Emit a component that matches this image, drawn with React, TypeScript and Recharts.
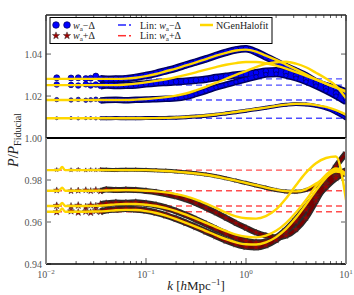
import React from 'react'
import { ComposedChart, Line, XAxis, YAxis, ReferenceLine } from 'recharts'

// simulation k bins (h/Mpc)
const K_SIM = [0.0128, 0.0178, 0.021, 0.025, 0.028, 0.0315, 0.035, 0.04, 0.05, 0.063, 0.079, 0.1, 0.126, 0.158, 0.2, 0.251, 0.316, 0.398, 0.501, 0.631, 0.794, 1.0, 1.26, 1.58, 2.0, 2.51, 3.16, 3.98, 5.01, 6.31, 7.94, 10]

// w_a - Delta, four redshifts (top to bottom)
const SIM_MINUS_A = [1.0287, 1.0286, 1.0287, 1.0283, 1.0285, 1.0295, 1.0282, 1.028, 1.0281, 1.0283, 1.0289, 1.0298, 1.0308, 1.032, 1.0333, 1.0348, 1.0362, 1.0377, 1.0393, 1.0408, 1.042, 1.0425, 1.041, 1.0387, 1.0363, 1.034, 1.0318, 1.0296, 1.0268, 1.0249, 1.0237, 1.0219]
const SIM_MINUS_B = [1.0255, 1.0253, 1.025, 1.0256, 1.025, 1.0255, 1.0249, 1.0252, 1.025, 1.0251, 1.0253, 1.0258, 1.0262, 1.0265, 1.0268, 1.0271, 1.0275, 1.028, 1.0288, 1.0294, 1.03, 1.0305, 1.0311, 1.0318, 1.032, 1.0313, 1.0297, 1.028, 1.026, 1.0237, 1.0213, 1.0189]
const SIM_MINUS_C = [1.0183, 1.0181, 1.0184, 1.018, 1.0182, 1.0185, 1.0179, 1.0181, 1.0182, 1.018, 1.0182, 1.0183, 1.0185, 1.0187, 1.0189, 1.0196, 1.021, 1.0225, 1.0241, 1.0254, 1.0267, 1.028, 1.0292, 1.0303, 1.0305, 1.0298, 1.0285, 1.0268, 1.0248, 1.0225, 1.02, 1.0172]
const SIM_MINUS_D = [1.0094, 1.0095, 1.0093, 1.0094, 1.0095, 1.0093, 1.0094, 1.0094, 1.0095, 1.0094, 1.0094, 1.0095, 1.0095, 1.0096, 1.0097, 1.0099, 1.0102, 1.0106, 1.0111, 1.0117, 1.0123, 1.013, 1.0137, 1.0144, 1.0152, 1.0158, 1.0162, 1.016, 1.0153, 1.0141, 1.0121, 1.0093]

// w_a + Delta
const SIM_PLUS_E = [0.9849, 0.9848, 0.985, 0.9847, 0.9849, 0.9848, 0.985, 0.9849, 0.9848, 0.9849, 0.9849, 0.9848, 0.9846, 0.9844, 0.9841, 0.9837, 0.9832, 0.9826, 0.9818, 0.9808, 0.9797, 0.9786, 0.9774, 0.9763, 0.9752, 0.9745, 0.9744, 0.9752, 0.9772, 0.98, 0.9825, 0.984]
const SIM_PLUS_F = [0.9751, 0.9748, 0.975, 0.9752, 0.9748, 0.9753, 0.9747, 0.9755, 0.9752, 0.9754, 0.9752, 0.9748, 0.9742, 0.9733, 0.9722, 0.9708, 0.969, 0.9668, 0.9645, 0.962, 0.9595, 0.9572, 0.955, 0.9535, 0.9527, 0.9535, 0.9565, 0.962, 0.97, 0.9785, 0.9865, 0.9928]
const SIM_PLUS_G = [0.9678, 0.9675, 0.9679, 0.9672, 0.968, 0.9676, 0.9684, 0.9688, 0.9692, 0.969, 0.9693, 0.9688, 0.968, 0.9668, 0.9652, 0.9633, 0.9612, 0.959, 0.9567, 0.9545, 0.9525, 0.951, 0.9502, 0.9505, 0.9525, 0.9562, 0.9612, 0.967, 0.9728, 0.978, 0.982, 0.9845]
const SIM_PLUS_H = [0.9648, 0.9652, 0.9646, 0.965, 0.9645, 0.9653, 0.9649, 0.9656, 0.966, 0.9663, 0.966, 0.9655, 0.9645, 0.9632, 0.9615, 0.9596, 0.9576, 0.9555, 0.9533, 0.9512, 0.9495, 0.9483, 0.948, 0.949, 0.9515, 0.9553, 0.9603, 0.966, 0.9716, 0.9768, 0.981, 0.9838]

// NGenHalofit k grid
const K_FIT = [0.01, 0.0135, 0.0145, 0.0155, 0.02, 0.03, 0.04, 0.05, 0.063, 0.079, 0.1, 0.126, 0.158, 0.2, 0.251, 0.316, 0.398, 0.501, 0.631, 0.794, 1.0, 1.26, 1.58, 2.0, 2.51, 3.16, 3.98, 5.01, 6.31, 7.94, 10]

const FIT_MINUS_A = [1.0282, 1.0282, 1.0282, 1.0282, 1.0282, 1.0282, 1.0282, 1.0282, 1.0283, 1.0287, 1.0295, 1.0305, 1.0318, 1.0331, 1.0346, 1.036, 1.0376, 1.0392, 1.0406, 1.0417, 1.0421, 1.0412, 1.0392, 1.0372, 1.035, 1.0327, 1.0303, 1.0279, 1.0259, 1.0241, 1.0222]
const FIT_MINUS_B = [1.0252, 1.0252, 1.0252, 1.0252, 1.0252, 1.0252, 1.0252, 1.0252, 1.0255, 1.0259, 1.0265, 1.0272, 1.028, 1.029, 1.0301, 1.0313, 1.0326, 1.0338, 1.0349, 1.0357, 1.0362, 1.0362, 1.0356, 1.0345, 1.0331, 1.0314, 1.0296, 1.0278, 1.0259, 1.024, 1.022]
const FIT_MINUS_C = [1.0181, 1.0181, 1.0181, 1.0181, 1.0181, 1.0181, 1.0181, 1.0181, 1.0181, 1.0183, 1.0186, 1.019, 1.0195, 1.0202, 1.0212, 1.0227, 1.0244, 1.0263, 1.0282, 1.0301, 1.0319, 1.0338, 1.0353, 1.0361, 1.0363, 1.0354, 1.0337, 1.0311, 1.0283, 1.0248, 1.0189]
const FIT_MINUS_D = [1.0094, 1.0094, 1.0094, 1.0094, 1.0094, 1.0094, 1.0094, 1.0094, 1.0094, 1.0094, 1.0094, 1.0095, 1.0096, 1.0098, 1.01, 1.0103, 1.0107, 1.0112, 1.0118, 1.0124, 1.0131, 1.0138, 1.0145, 1.0153, 1.0159, 1.0163, 1.0162, 1.0157, 1.0148, 1.0133, 1.0112]

const FIT_PLUS_E = [0.9847, 0.9847, 0.9862, 0.9847, 0.9847, 0.9847, 0.9847, 0.9847, 0.9847, 0.9847, 0.9847, 0.9845, 0.9843, 0.984, 0.9836, 0.9831, 0.9825, 0.9817, 0.9807, 0.9797, 0.9786, 0.9775, 0.9764, 0.9754, 0.9747, 0.9746, 0.9756, 0.9783, 0.9815, 0.984, 0.983]
const FIT_PLUS_F = [0.9749, 0.9749, 0.9764, 0.9749, 0.9749, 0.9749, 0.975, 0.9751, 0.9752, 0.9751, 0.9749, 0.9746, 0.9741, 0.9733, 0.9722, 0.9707, 0.9688, 0.9667, 0.9645, 0.9627, 0.9618, 0.9616, 0.9628, 0.966, 0.9712, 0.9775, 0.9835, 0.988, 0.9905, 0.9912, 0.9705]
const FIT_PLUS_G = [0.9676, 0.9676, 0.9691, 0.9676, 0.9676, 0.9677, 0.968, 0.9684, 0.9686, 0.9686, 0.9682, 0.9676, 0.9666, 0.9652, 0.9635, 0.9616, 0.9596, 0.9576, 0.9557, 0.954, 0.953, 0.9527, 0.9535, 0.9558, 0.9595, 0.9645, 0.9705, 0.977, 0.9825, 0.9855, 0.983]
const FIT_PLUS_H = [0.9649, 0.9649, 0.9664, 0.9649, 0.9649, 0.965, 0.9652, 0.9656, 0.9658, 0.9657, 0.9652, 0.9643, 0.963, 0.9614, 0.9596, 0.9577, 0.9557, 0.9537, 0.9518, 0.9503, 0.9494, 0.9493, 0.9503, 0.9528, 0.9567, 0.962, 0.9683, 0.975, 0.981, 0.9848, 0.9822]

// linear theory ratios
const LIN_MINUS = [1.0282, 1.0252, 1.0181, 1.0094]
const LIN_PLUS = [0.9847, 0.9749, 0.9676, 0.9649]

const X_DOMAIN = [0.01, 10]
const Y_DOMAIN = [0.94, 1.0586]
const Y_TICKS = [0.94, 0.96, 0.98, 1.0, 1.02, 1.04]
const X_MAJOR = [0.01, 0.1, 1, 10]
const X_EXP = ['\u22122', '\u22121', '0', '1']
const X_MINOR = [0.02, 0.03, 0.04, 0.05, 0.06, 0.07, 0.08, 0.09, 0.2, 0.3, 0.4, 0.5, 0.6, 0.7, 0.8, 0.9, 2, 3, 4, 5, 6, 7, 8, 9]

const W = 354
const H = 295
const PLOT = { left: 46, right: 346, top: 15, bottom: 264 }
const FONT = '"Liberation Serif", "DejaVu Serif", serif'
const BAND_FROM = 0.035
const YELLOW = '#ffd700'

type Pt = { k: number; v: number }
const toPts = (ks: number[], vs: number[]): Pt[] => ks.map((k, i) => ({ k, v: vs[i] }))
const flat = (v: number): Pt[] => [{ k: X_DOMAIN[0], v }, { k: X_DOMAIN[1], v }]

const MINUS = [
  { sim: SIM_MINUS_A, fit: FIT_MINUS_A, r: 3, band: 7.5 },
  { sim: SIM_MINUS_B, fit: FIT_MINUS_B, r: 2.8, band: 7.5 },
  { sim: SIM_MINUS_C, fit: FIT_MINUS_C, r: 2.2, band: 6.5 },
  { sim: SIM_MINUS_D, fit: FIT_MINUS_D, r: 1.5, band: 4 },
]
const PLUS = [
  { sim: SIM_PLUS_E, fit: FIT_PLUS_E, r: 1.5, band: 4 },
  { sim: SIM_PLUS_F, fit: FIT_PLUS_F, r: 2.6, band: 6 },
  { sim: SIM_PLUS_G, fit: FIT_PLUS_G, r: 3, band: 6.5 },
  { sim: SIM_PLUS_H, fit: FIT_PLUS_H, r: 3, band: 6.5 },
]

function starPath(cx: number, cy: number, R: number) {
  const pts: string[] = []
  for (let i = 0; i < 10; i++) {
    const a = -Math.PI / 2 + (i * Math.PI) / 5
    const rr = i % 2 === 0 ? R : R * 0.42
    pts.push(`${(cx + rr * Math.cos(a)).toFixed(2)},${(cy + rr * Math.sin(a)).toFixed(2)}`)
  }
  return 'M' + pts.join('L') + 'Z'
}

const circleDot = (r: number) => (p: any) => {
  if (p.cx == null || p.cy == null) return <g key={`n${p.index}`} />
  return <circle key={`c${p.index}`} cx={p.cx} cy={p.cy} r={r} fill="#0000ff" stroke="#00005a" strokeWidth={0.7} />
}
const starDot = (r: number) => (p: any) => {
  if (p.cx == null || p.cy == null) return <g key={`n${p.index}`} />
  return <path key={`s${p.index}`} d={starPath(p.cx, p.cy, r + 0.8)} fill="#a00000" stroke="#333" strokeWidth={0.5} />
}

const XTick = (p: any) => {
  const { x, payload } = p
  const v = payload.value as number
  const mi = X_MAJOR.indexOf(v)
  const len = mi >= 0 ? 6 : 3
  return (
    <g>
      <line x1={x} x2={x} y1={PLOT.bottom} y2={PLOT.bottom - len} stroke="#333" strokeWidth={0.8} />
      <line x1={x} x2={x} y1={PLOT.top} y2={PLOT.top + len} stroke="#333" strokeWidth={0.8} />
      {mi >= 0 && (
        <text x={x} y={PLOT.bottom + 14} textAnchor="middle" fontSize={10} fill="#555" fontFamily={FONT}>
          10<tspan dy={-4} fontSize={7}>{X_EXP[mi]}</tspan>
        </text>
      )}
    </g>
  )
}

const YTick = (p: any) => {
  const { y, payload } = p
  return (
    <g>
      <line x1={PLOT.left} x2={PLOT.left + 5} y1={y} y2={y} stroke="#333" strokeWidth={0.8} />
      <line x1={PLOT.right} x2={PLOT.right - 5} y1={y} y2={y} stroke="#333" strokeWidth={0.8} />
      <text x={PLOT.left - 4} y={y + 3.5} textAnchor="end" fontSize={10} fill="#555" fontFamily={FONT}>
        {(payload.value as number).toFixed(2)}
      </text>
    </g>
  )
}

function Wa({ sign }: { sign: string }) {
  return (
    <>
      <tspan fontStyle="italic">w</tspan>
      <tspan dy={2} fontSize={7}>a</tspan>
      <tspan dy={-2}>{sign}Δ</tspan>
    </>
  )
}

function Overlay() {
  const midY = 138
  return (
    <svg width={W} height={H} style={{ position: 'absolute', left: 0, top: 0, pointerEvents: 'none' }} fontFamily={FONT}>
      {/* frame */}
      <line x1={PLOT.left} x2={PLOT.right} y1={PLOT.top} y2={PLOT.top} stroke="#222" strokeWidth={1.3} />
      <line x1={PLOT.left} x2={PLOT.right} y1={PLOT.bottom} y2={PLOT.bottom} stroke="#000" strokeWidth={1.6} />
      <line x1={PLOT.left} x2={PLOT.left} y1={PLOT.top} y2={midY} stroke="#333" strokeWidth={1.5} />
      <line x1={PLOT.left} x2={PLOT.left} y1={midY} y2={PLOT.bottom} stroke="#888" strokeWidth={2} />
      <line x1={PLOT.right} x2={PLOT.right} y1={PLOT.top} y2={midY} stroke="#333" strokeWidth={1.5} />
      <line x1={PLOT.right} x2={PLOT.right} y1={midY} y2={PLOT.bottom} stroke="#888" strokeWidth={2} />

      {/* legend */}
      <rect x={50} y={17.5} width={222} height={26} fill="#fff" stroke="#000" strokeWidth={1} />
      <circle cx={56} cy={25} r={3.3} fill="#0000ff" stroke="#00005a" strokeWidth={0.7} />
      <circle cx={67} cy={25} r={3.3} fill="#0000ff" stroke="#00005a" strokeWidth={0.7} />
      <text x={73} y={28.5} fontSize={10} fill="#222"><Wa sign={'\u2212'} /></text>
      <path d={starPath(56, 35.7, 3.8)} fill="#a00000" stroke="#333" strokeWidth={0.5} />
      <path d={starPath(67, 35.7, 3.8)} fill="#a00000" stroke="#333" strokeWidth={0.5} />
      <text x={73} y={39.2} fontSize={10} fill="#222"><Wa sign="+" /></text>

      <line x1={118} x2={126} y1={25} y2={25} stroke="#2020ff" strokeWidth={1.5} />
      <line x1={129} x2={131} y1={25} y2={25} stroke="#2020ff" strokeWidth={1.5} />
      <text x={140} y={28.5} fontSize={10} fill="#222">Lin: <Wa sign={'\u2212'} /></text>
      <line x1={118} x2={126} y1={35.7} y2={35.7} stroke="#ff3030" strokeWidth={1.5} />
      <line x1={129} x2={131} y1={35.7} y2={35.7} stroke="#ff3030" strokeWidth={1.5} />
      <text x={140} y={39.2} fontSize={10} fill="#222">Lin: <Wa sign="+" /></text>

      <line x1={200} x2={213} y1={25} y2={25} stroke={YELLOW} strokeWidth={2.5} />
      <text x={216} y={28.5} fontSize={10} fill="#222">NGenHalofit</text>

      {/* axis titles */}
      <text x={196} y={290} textAnchor="middle" fontSize={13} fill="#222">
        <tspan fontStyle="italic">k</tspan> [<tspan fontStyle="italic">h</tspan>Mpc<tspan dy={-5} fontSize={9}>{'\u22121'}</tspan><tspan dy={5}>]</tspan>
      </text>
      <text transform="translate(18,140) rotate(-90)" textAnchor="middle" fontSize={14} fill="#222">
        <tspan fontStyle="italic">P</tspan>/<tspan fontStyle="italic">P</tspan>
        <tspan dy={3} fontSize={10}>Fiducial</tspan>
      </text>
    </svg>
  )
}

const MARGIN = { top: PLOT.top, right: W - PLOT.right, bottom: 0, left: 0 }

export default function App() {
  const series = [
    ...MINUS.map((s, i) => ({ ...s, lin: LIN_MINUS[i], minus: true })),
    ...PLUS.map((s, i) => ({ ...s, lin: LIN_PLUS[i], minus: false })),
  ]
  const xAxis = (show: boolean) => (
    <XAxis
      type="number"
      dataKey="k"
      scale="log"
      domain={X_DOMAIN}
      allowDataOverflow
      ticks={[...X_MAJOR, ...X_MINOR]}
      interval={0}
      height={H - PLOT.bottom}
      tickSize={0}
      tickMargin={0}
      axisLine={false}
      tickLine={false}
      tick={show ? <XTick /> : false}
    />
  )
  const yAxis = (show: boolean) => (
    <YAxis
      type="number"
      domain={Y_DOMAIN}
      allowDataOverflow
      ticks={Y_TICKS}
      interval={0}
      width={PLOT.left}
      tickSize={0}
      tickMargin={0}
      axisLine={false}
      tickLine={false}
      tick={show ? <YTick /> : false}
    />
  )
  return (
    <div style={{ position: 'absolute', left: 0, top: 0, width: W, height: H, background: '#fff' }}>
      {/* simulations and linear theory */}
      <div style={{ position: 'absolute', left: 0, top: 0 }}>
        <ComposedChart width={W} height={H} margin={MARGIN}>
          {xAxis(true)}
          {yAxis(true)}
          {series.map((s, i) => (
            <Line
              key={`lin${i}`}
              data={flat(s.lin)}
              dataKey="v"
              stroke={s.minus ? '#2020ff' : '#ff2020'}
              strokeOpacity={0.8}
              strokeWidth={1.4}
              strokeDasharray="6 4"
              dot={false}
              activeDot={false}
              isAnimationActive={false}
            />
          ))}
          {series.map((s, i) => (
            <Line
              key={`bo${i}`}
              data={toPts(K_SIM, s.sim).filter((p) => p.k >= BAND_FROM)}
              dataKey="v"
              type="monotone"
              stroke={s.minus ? '#00005e' : '#2a2a2a'}
              strokeWidth={s.band}
              dot={false}
              activeDot={false}
              isAnimationActive={false}
            />
          ))}
          {series.map((s, i) => (
            <Line
              key={`bi${i}`}
              data={toPts(K_SIM, s.sim).filter((p) => p.k >= BAND_FROM)}
              dataKey="v"
              type="monotone"
              stroke={s.minus ? '#0000f0' : '#7a0000'}
              strokeWidth={Math.max(1.5, s.band - 3)}
              dot={false}
              activeDot={false}
              isAnimationActive={false}
            />
          ))}
          {series.map((s, i) => (
            <Line
              key={`pt${i}`}
              data={toPts(K_SIM, s.sim)}
              dataKey="v"
              stroke="none"
              dot={s.minus ? circleDot(s.r) : starDot(s.r)}
              activeDot={false}
              isAnimationActive={false}
            />
          ))}
        </ComposedChart>
      </div>

      {/* NGenHalofit on top */}
      <div style={{ position: 'absolute', left: 0, top: 0 }}>
        <ComposedChart width={W} height={H} margin={MARGIN}>
          {xAxis(false)}
          {yAxis(false)}
          {series.map((s, i) => (
            <Line
              key={`fit${i}`}
              data={toPts(K_FIT, s.fit)}
              dataKey="v"
              type="monotone"
              stroke={YELLOW}
              strokeWidth={2.4}
              dot={false}
              activeDot={false}
              isAnimationActive={false}
            />
          ))}
          <ReferenceLine y={1} stroke="#000" strokeWidth={2} ifOverflow="visible" />
        </ComposedChart>
      </div>
      <Overlay />
    </div>
  )
}
